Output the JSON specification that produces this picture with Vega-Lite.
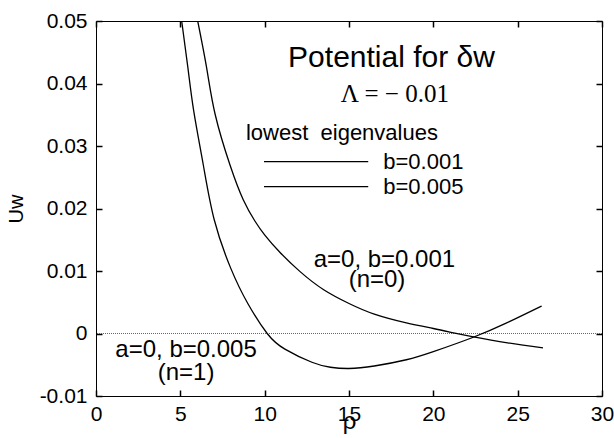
{
  "$schema": "https://vega.github.io/schema/vega-lite/v6.json",
  "width": 506,
  "height": 375,
  "autosize": {"type": "none"},
  "padding": {"left": 96, "top": 21, "right": 12, "bottom": 42},
  "background": "white",
  "config": {
    "view": {"stroke": "black", "strokeWidth": 1},
    "font": "Liberation Sans",
    "axis": {"grid": false, "domain": false, "zindex": 1, "labelColor": "black", "titleColor": "black", "labelFont": "Liberation Sans", "titleFont": "Liberation Sans", "titleFontWeight": "normal", "labelOverlap": false, "labelFlush": false}
  },
  "datasets": {
    "curves": [
      {"series": "b=0.005", "rho": 5.08, "U": 0.050},
      {"series": "b=0.005", "rho": 5.45, "U": 0.0425},
      {"series": "b=0.005", "rho": 5.80, "U": 0.0355},
      {"series": "b=0.005", "rho": 6.36, "U": 0.027},
      {"series": "b=0.005", "rho": 7.01, "U": 0.0182},
      {"series": "b=0.005", "rho": 7.98, "U": 0.0105},
      {"series": "b=0.005", "rho": 9.0, "U": 0.0048},
      {"series": "b=0.005", "rho": 10.15, "U": 0.0},
      {"series": "b=0.005", "rho": 11.2, "U": -0.0025},
      {"series": "b=0.005", "rho": 12.8, "U": -0.0046},
      {"series": "b=0.005", "rho": 13.9, "U": -0.0054},
      {"series": "b=0.005", "rho": 15.0, "U": -0.0056},
      {"series": "b=0.005", "rho": 16.5, "U": -0.0052},
      {"series": "b=0.005", "rho": 18.4, "U": -0.0042},
      {"series": "b=0.005", "rho": 20.0, "U": -0.0029},
      {"series": "b=0.005", "rho": 22.37, "U": -0.0006},
      {"series": "b=0.005", "rho": 24.35, "U": 0.0017},
      {"series": "b=0.005", "rho": 26.42, "U": 0.0044},
      {"series": "b=0.001", "rho": 6.03, "U": 0.050},
      {"series": "b=0.001", "rho": 6.56, "U": 0.0425},
      {"series": "b=0.001", "rho": 7.07, "U": 0.035},
      {"series": "b=0.001", "rho": 7.94, "U": 0.027},
      {"series": "b=0.001", "rho": 8.73, "U": 0.0214},
      {"series": "b=0.001", "rho": 9.42, "U": 0.0180},
      {"series": "b=0.001", "rho": 10.02, "U": 0.0157},
      {"series": "b=0.001", "rho": 10.9, "U": 0.0130},
      {"series": "b=0.001", "rho": 12.1, "U": 0.0099},
      {"series": "b=0.001", "rho": 13.5, "U": 0.0070},
      {"series": "b=0.001", "rho": 15.0, "U": 0.0048},
      {"series": "b=0.001", "rho": 16.5, "U": 0.0031},
      {"series": "b=0.001", "rho": 18.4, "U": 0.0017},
      {"series": "b=0.001", "rho": 20.0, "U": 0.0008},
      {"series": "b=0.001", "rho": 21.2, "U": 0.0001},
      {"series": "b=0.001", "rho": 22.3, "U": -0.0005},
      {"series": "b=0.001", "rho": 24.4, "U": -0.0015},
      {"series": "b=0.001", "rho": 26.5, "U": -0.0023}
    ],
    "legendLines": [
      {"series": "b=0.001", "x1": 9.96, "x2": 16.14, "y": 0.0275},
      {"series": "b=0.005", "x1": 9.96, "x2": 16.14, "y": 0.0235}
    ],
    "titleText": [{"x": 17.52, "y": 0.0427, "label": "Potential for δw"}],
    "lambdaText": [{"x": 17.72, "y": 0.0371, "label": "Λ = − 0.01"}],
    "legendText": [
      {"x": 8.89, "y": 0.0310, "label": "lowest\u00a0\u00a0eigenvalues"},
      {"x": 17.03, "y": 0.0264, "label": "b=0.001"},
      {"x": 17.03, "y": 0.0224, "label": "b=0.005"}
    ],
    "annotText": [
      {"x": 17.1, "y": 0.0107, "label": "a=0, b=0.001"},
      {"x": 16.66, "y": 0.0075, "label": "(n=0)"},
      {"x": 5.34, "y": -0.0038, "label": "a=0, b=0.005"},
      {"x": 5.34, "y": -0.0074, "label": "(n=1)"}
    ]
  },
  "resolve": {"axis": {"x": "independent", "y": "independent"}},
  "layer": [
    {
      "data": {"name": "curves"},
      "mark": {"type": "rule", "color": "#666666", "strokeDash": [1, 1], "strokeWidth": 1},
      "encoding": {
        "y": {"datum": 0, "type": "quantitative", "axis": null}
      }
    },
    {
      "data": {"name": "curves"},
      "mark": {"type": "line", "color": "black", "strokeWidth": 1.3, "interpolate": "natural", "clip": true},
      "encoding": {
        "x": {"field": "rho", "type": "quantitative", "scale": {"domain": [0, 30], "nice": false, "zero": false},
          "axis": {"orient": "bottom", "values": [0, 5, 10, 15, 20, 25, 30], "offset": -6, "ticks": true, "tickSize": 6, "tickWidth": 1.5, "tickColor": "black", "labelPadding": 7, "labelFontSize": 21, "title": "ρ", "titleFontSize": 24, "titlePadding": -15}},
        "y": {"field": "U", "type": "quantitative", "scale": {"domain": [-0.01, 0.05], "nice": false, "zero": false},
          "axis": {"orient": "left", "values": [-0.01, 0, 0.01, 0.02, 0.03, 0.04, 0.05], "offset": -6, "ticks": true, "tickSize": 6, "tickWidth": 1.5, "tickColor": "black", "labelPadding": 9, "labelFontSize": 21,
            "labelExpr": "datum.value == 0 ? '0' : (datum.value < 0 ? '-' + format(-datum.value, '.2f') : format(datum.value, '.2f'))",
            "title": "Uw", "titleFontSize": 20, "titlePadding": 13}},
        "detail": {"field": "series", "type": "nominal"}
      }
    },
    {
      "data": {"name": "legendLines"},
      "mark": {"type": "rule", "color": "black", "strokeWidth": 1.1},
      "encoding": {
        "x": {"field": "x1", "type": "quantitative",
          "axis": {"orient": "top", "values": [0, 5, 10, 15, 20, 25, 30], "offset": -6, "ticks": true, "tickSize": 6, "tickWidth": 1.5, "tickColor": "black", "labels": false, "title": null}},
        "x2": {"field": "x2"},
        "y": {"field": "y", "type": "quantitative",
          "axis": {"orient": "right", "values": [-0.01, 0, 0.01, 0.02, 0.03, 0.04, 0.05], "offset": -6, "ticks": true, "tickSize": 6, "tickWidth": 1.5, "tickColor": "black", "labels": false, "title": null}}
      }
    },
    {
      "data": {"name": "titleText"},
      "mark": {"type": "text", "fontSize": 30, "align": "center", "baseline": "alphabetic", "color": "black"},
      "encoding": {
        "x": {"field": "x", "type": "quantitative", "axis": null},
        "y": {"field": "y", "type": "quantitative", "axis": null},
        "text": {"field": "label"}
      }
    },
    {
      "data": {"name": "lambdaText"},
      "mark": {"type": "text", "font": "Liberation Serif", "fontSize": 25, "align": "center", "baseline": "alphabetic", "color": "black"},
      "encoding": {
        "x": {"field": "x", "type": "quantitative", "axis": null},
        "y": {"field": "y", "type": "quantitative", "axis": null},
        "text": {"field": "label"}
      }
    },
    {
      "data": {"name": "legendText"},
      "mark": {"type": "text", "fontSize": 22, "align": "left", "baseline": "alphabetic", "color": "black"},
      "encoding": {
        "x": {"field": "x", "type": "quantitative", "axis": null},
        "y": {"field": "y", "type": "quantitative", "axis": null},
        "text": {"field": "label"}
      }
    },
    {
      "data": {"name": "annotText"},
      "mark": {"type": "text", "fontSize": 24, "align": "center", "baseline": "alphabetic", "color": "black"},
      "encoding": {
        "x": {"field": "x", "type": "quantitative", "axis": null},
        "y": {"field": "y", "type": "quantitative", "axis": null},
        "text": {"field": "label"}
      }
    }
  ]
}
